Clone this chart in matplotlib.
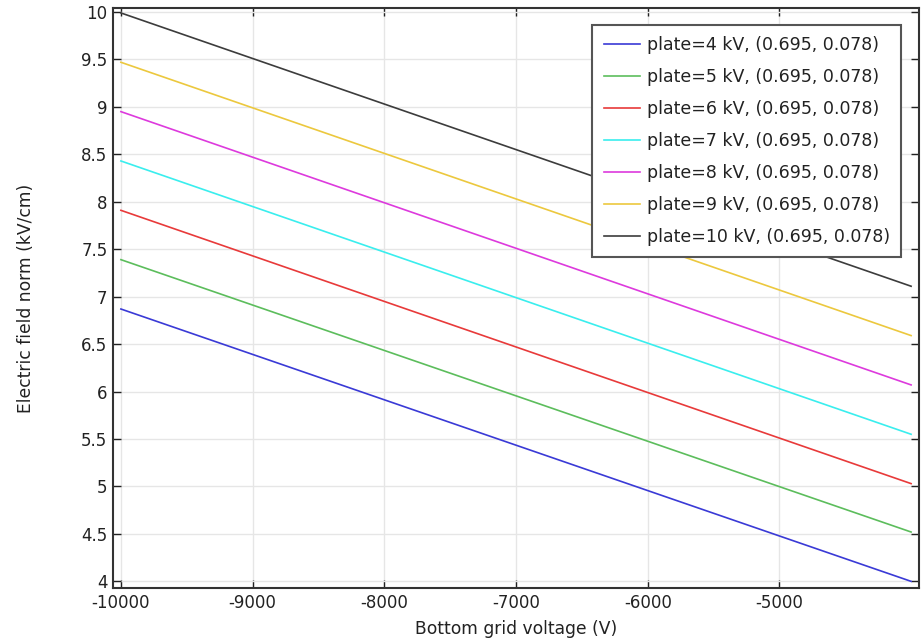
import matplotlib.pyplot as plt

# bottom grid voltage sweep (V), end points of each straight line
grid_voltage = [-10000, -4000]

# electric field norm (kV/cm) at the probe point, one list per plate voltage
field_4kv = [6.87, 4.00]
field_5kv = [7.39, 4.52]
field_6kv = [7.91, 5.03]
field_7kv = [8.43, 5.55]
field_8kv = [8.95, 6.07]
field_9kv = [9.47, 6.59]
field_10kv = [9.99, 7.11]

plate_kv = [4, 5, 6, 7, 8, 9, 10]
series = [field_4kv, field_5kv, field_6kv, field_7kv, field_8kv, field_9kv, field_10kv]
colors = ['#3a3ad6', '#5cbd5c', '#e83a3a', '#3aeeee', '#dd3add', '#ecc83e', '#3c3c3c']

x_ticks = [-10000, -9000, -8000, -7000, -6000, -5000]
y_ticks = [4, 4.5, 5, 5.5, 6, 6.5, 7, 7.5, 8, 8.5, 9, 9.5, 10]

plt.rcParams['font.family'] = 'DejaVu Sans'
plt.rcParams['font.size'] = 12
plt.rcParams['axes.unicode_minus'] = False

fig = plt.figure(figsize=(9.24, 6.4), dpi=100)
ax = fig.add_axes([113 / 924, 52 / 640, 806 / 924, 580 / 640])

for kv, vals, c in zip(plate_kv, series, colors):
    ax.plot(grid_voltage, vals, color=c, lw=1.2,
            label=f'plate={kv} kV, (0.695, 0.078)')

ax.set_xlim(-10060, -3940)
ax.set_ylim(3.93, 10.042)
ax.set_xticks(x_ticks)
ax.set_xticklabels([str(t) for t in x_ticks])
ax.set_yticks(y_ticks)
ax.set_yticklabels([f'{t:g}' for t in y_ticks])
ax.tick_params(direction='in', top=True, right=True, length=6, width=1,
               labelsize=12, colors='#222222', pad=4)
ax.grid(True, color='#e6e6e6', lw=1)
ax.set_axisbelow(True)
for s in ax.spines.values():
    s.set_color('#333333')
    s.set_linewidth(1.5)

ax.set_xlabel('Bottom grid voltage (V)', fontsize=12.3, color='#222222', labelpad=6)
ax.set_ylabel('Electric field norm (kV/cm)', fontsize=12.3, color='#222222', labelpad=33)

leg = ax.legend(loc='upper right', bbox_to_anchor=(0.9777, 0.9707), fontsize=12.5,
                frameon=True, fancybox=False, shadow=False, handlelength=2.07,
                labelspacing=0.8, borderpad=0.65, handletextpad=0.4,
                borderaxespad=0, framealpha=1)
leg.get_frame().set_edgecolor('#555555')
leg.get_frame().set_linewidth(1.5)
for t in leg.get_texts():
    t.set_color('#222222')

fig.savefig('out.png', dpi=100)
